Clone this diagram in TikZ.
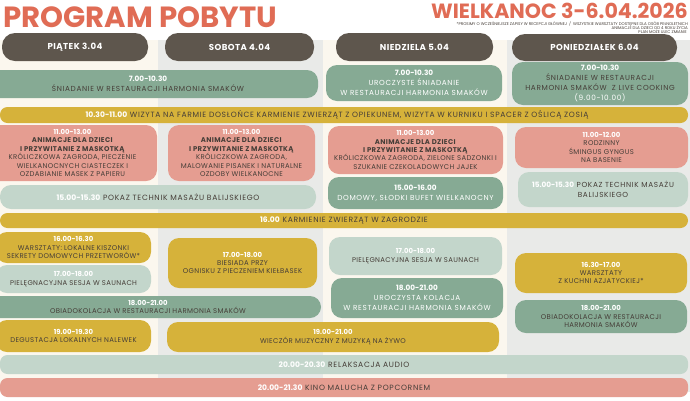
\documentclass[tikz,border=0pt]{standalone}
\usepackage{fontspec}
\setmainfont{Poppins}
\newfontfamily\titlefont{Poppins}
\newfontfamily\spA{Poppins}[LetterSpace=5]
\newfontfamily\spB{Poppins}[LetterSpace=9]
\definecolor{ctitle}{HTML}{E06C55}
\definecolor{chead}{HTML}{5E564D}
\definecolor{cgreen}{HTML}{86AA94}
\definecolor{clight}{HTML}{C3D6CB}
\definecolor{cpink}{HTML}{E59D91}
\definecolor{cyellow}{HTML}{D6B23A}
\definecolor{ccream}{HTML}{FBF7EE}
\definecolor{cgrey}{HTML}{E9EAE8}
\definecolor{ctext}{HTML}{463E38}
\newcommand\tm[1]{\textcolor{white}{\normalfont\bfseries #1}}
\newcommand\mkbox[6]{\node[boxbase,#2,minimum width={(#5)-(#3)},minimum height={(#6)-(#4)}] (#1) at ({((#3)+(#5))/2},{((#4)+(#6))/2}) {};}
\tikzset{
  boxbase/.style={draw=none,rounded corners=11pt,inner sep=0pt,outer sep=0pt},
  thin/.style={rounded corners=7.5pt},
  green/.style={fill=cgreen},
  light/.style={fill=clight},
  pink/.style={fill=cpink},
  yellow/.style={fill=cyellow},
  head/.style={fill=chead,rounded corners=13pt},
  txt/.style={align=center,inner sep=0pt,font=\spA\fontsize{6.9}{8.4}\selectfont,text=ctext},
  bigtxt/.style={align=center,inner sep=0pt,font=\spB\fontsize{7.3}{10}\selectfont,text=ctext},
  bartxt/.style={align=center,inner sep=0pt,font=\spB\fontsize{7.6}{9}\selectfont,text=ctext},
  headtxt/.style={inner sep=0pt,font=\spA\bfseries\fontsize{8.6}{10}\selectfont,text=white},
}
\begin{document}
\begin{tikzpicture}[x=1pt,y=-1pt]
\useasboundingbox (0,0) rectangle (690,400);
\clip (0,0) rectangle (690,400);
\fill[white] (0,0) rectangle (690,400);
% column backgrounds
\fill[ccream] (0,40) rectangle (158,392);
\fill[cgrey] (158,40) rectangle (323,392);
\fill[ccream] (323,40) rectangle (507,392);
\fill[cgrey] (507,40) rectangle (690,392);
% titles
\node[anchor=base west,inner sep=0pt,font=\titlefont\bfseries\fontsize{29.2}{29}\selectfont,text=ctitle] (title) at (3,27) {PROGRAM POBYTU};
\node[anchor=base east,inner sep=0pt,font=\titlefont\bfseries\fontsize{20.6}{21}\selectfont,text=ctitle] (subtitle) at (688,18.3) {WIELKANOC 3-6.04.2026};
\node[anchor=north east,inner sep=0pt,align=right,font=\fontsize{4}{4.3}\selectfont,text=ctext] (notes) at (688,21.4) {*PROSIMY O WCZEŚNIEJSZE ZAPISY W RECEPCJI GŁÓWNEJ \ / \ WSZYSTKIE WARSZTATY DOSTĘPNE DLA OSÓB PEŁNOLETNICH\\ANIMACJE DLA DZIECI OD 4 ROKU ŻYCIA \\PLAN MOŻE ULEC ZMIANIE \ };
% headers
\mkbox{h1}{head}{2}{33}{148}{61}
\mkbox{h2}{head}{165}{33}{314}{61}
\mkbox{h3}{head}{336}{33}{493}{61}
\mkbox{h4}{head}{512}{34}{677}{61}
\node[headtxt] (th1) at (h1.center) {PIĄTEK 3.04};
\node[headtxt] (th2) at (h2.center) {SOBOTA 4.04};
\node[headtxt] (th3) at (h3.center) {NIEDZIELA 5.04};
\node[headtxt] (th4) at (h4.center) {PONIEDZIAŁEK 6.04};
% breakfast
\mkbox{b1}{green}{-22}{70}{318}{98}
\node[bigtxt] (tb1) at (b1.center) {\tm{7.00-10.30}\\ŚNIADANIE W RESTAURACJI HARMONIA SMAKÓW};
\mkbox{b3}{green}{326}{65}{502}{101}
\node[bigtxt,text=white] (tb3) at (b3.center) {\tm{7.00-10.30}\\UROCZYSTE ŚNIADANIE\\W RESTAURACJI HARMONIA SMAKÓW};
\mkbox{b4}{green}{512}{62}{688}{105}
\node[bigtxt] (tb4) at (b4.center) {\tm{7.00-10.30}\\ŚNIADANIE W RESTAURACJI\\HARMONIA SMAKÓW \ Z LIVE COOKING\\\textcolor{white}{(9.00-10.00)}};
% bar 1
\mkbox{r1}{yellow,thin}{0}{107}{688}{123}
\node[bartxt] (tr1) at ([xshift=-7]r1.center) {\tm{10.30-11.00} WIZYTA NA FARMIE DOSŁOŃCE KARMIENIE ZWIERZĄT Z OPIEKUNEM, WIZYTA W KURNIKU I SPACER Z OŚLICĄ ZOSIĄ};
% animations
\mkbox{a1}{pink}{-12}{125}{157}{181}
\node[txt] (ta1) at (a1.center) {\tm{11.00-13.00}\\\textbf{ANIMACJE DLA DZIECI}\\\textbf{I PRZYWITANIE Z MASKOTKĄ}\\KRÓLICZKOWA ZAGRODA, PIECZENIE\\WIELKANOCNYCH CIASTECZEK I\\OZDABIANIE MASEK Z PAPIERU};
\mkbox{a2}{pink}{168}{125}{315}{181}
\node[txt] (ta2) at (a2.center) {\tm{11.00-13.00}\\\textbf{ANIMACJE DLA DZIECI}\\\textbf{I PRZYWITANIE Z MASKOTKĄ}\\KRÓLICZKOWA ZAGRODA,\\MALOWANIE PISANEK I NATURALNE\\OZDOBY WIELKANOCNE};
\mkbox{a3}{pink}{328}{126}{503}{174}
\node[txt] (ta3) at (a3.center) {\tm{11.00-13.00}\\\textbf{ANIMACJE DLA DZIECI}\\\textbf{I PRZYWITANIE Z MASKOTKĄ}\\KRÓLICZKOWA ZAGRODA, ZIELONE SADZONKI I\\SZUKANIE CZEKOLADOWYCH JAJEK};
\mkbox{a4}{pink}{515}{127}{688}{168}
\node[txt] (ta4) at (a4.center) {\tm{11.00-12.00}\\RODZINNY\\ŚMINGUS GYNGUS\\NA BASENIE};
% 15.00 row
\mkbox{p1}{light}{0}{185}{316}{209}
\node[bartxt] (tp1) at (p1.center) {\tm{15.00-15.30} POKAZ TECHNIK MASAŻU BALIJSKIEGO};
\mkbox{d3}{green}{328}{177}{503}{209}
\node[bigtxt,text=white] (td3) at (d3.center) {\tm{15.00-16.00}\\DOMOWY, SŁODKI BUFET WIELKANOCNY};
\mkbox{p4}{light}{518}{172}{688}{207}
\node[bigtxt] (tp4) at (p4.center) {\tm{15.00-15.30} POKAZ TECHNIK MASAŻU\\BALIJSKIEGO};
% bar 2
\mkbox{r2}{yellow,thin}{0}{213}{688}{228}
\node[bartxt] (tr2) at (r2.center) {\tm{16.00} KARMIENIE ZWIERZĄT W ZAGRODZIE};
% friday afternoon
\mkbox{w1}{yellow}{-4}{232}{151}{263}
\node[txt] (tw1) at (w1.center) {\tm{16.00-16.30}\\WARSZTATY: LOKALNE KISZONKI\\SEKRETY DOMOWYCH PRZETWORÓW*};
\mkbox{s1}{light}{-4}{265}{151}{293}
\node[txt] (ts1) at (s1.center) {\tm{17.00-18.00}\\PIELĘGNACYJNA SESJA W SAUNACH};
\mkbox{o1}{green}{-25}{296}{321}{318}
\node[txt] (to1) at (o1.center) {\tm{18.00-21.00}\\OBIADOKOLACJA W RESTAURACJI HARMONIA SMAKÓW};
\mkbox{g1}{yellow}{-4}{320}{151}{352}
\node[txt] (tg1) at (g1.center) {\tm{19.00-19.30}\\DEGUSTACJA LOKALNYCH NALEWEK};
% saturday afternoon
\mkbox{k2}{yellow}{168}{238}{317}{288}
\node[txt] (tk2) at (k2.center) {\tm{17.00-18.00}\\BIESIADA PRZY\\OGNISKU Z PIECZENIEM KIEŁBASEK};
\mkbox{m2}{yellow}{167}{322}{499}{352}
\node[txt] (tm2) at (m2.center) {\tm{19.00-21.00}\\WIECZÓR MUZYCZNY Z MUZYKĄ NA ŻYWO};
% sunday afternoon
\mkbox{s3}{light}{329}{237}{502}{275}
\node[txt] (ts3) at (s3.center) {\tm{17.00-18.00}\\PIELĘGNACYJNA SESJA W SAUNACH};
\mkbox{u3}{green}{331}{278}{503}{318}
\node[bigtxt,text=white] (tu3) at (u3.center) {\tm{18.00-21.00}\\UROCZYSTA KOLACJA\\W RESTAURACJI HARMONIA SMAKÓW};
% monday afternoon
\mkbox{w4}{yellow}{515}{253}{687}{293}
\node[txt] (tw4) at (w4.center) {\tm{16.30-17.00}\\WARSZTATY\\Z KUCHNI AZJATYCKIEJ*};
\mkbox{o4}{green}{515}{300}{687}{333}
\node[txt] (to4) at (o4.center) {\tm{18.00-21.00}\\OBIADOKOLACJA W RESTAURACJI\\HARMONIA SMAKÓW};
% bars 3, 4
\mkbox{r3}{light,thin}{0}{355}{688}{374}
\node[bartxt] (tr3) at (r3.center) {\tm{20.00-20.30} RELAKSACJA AUDIO};
\mkbox{r4}{pink,thin}{0}{378}{688}{397}
\node[bartxt] (tr4) at (r4.center) {\tm{20.00-21.30} KINO MALUCHA Z POPCORNEM};
\end{tikzpicture}
\end{document}
